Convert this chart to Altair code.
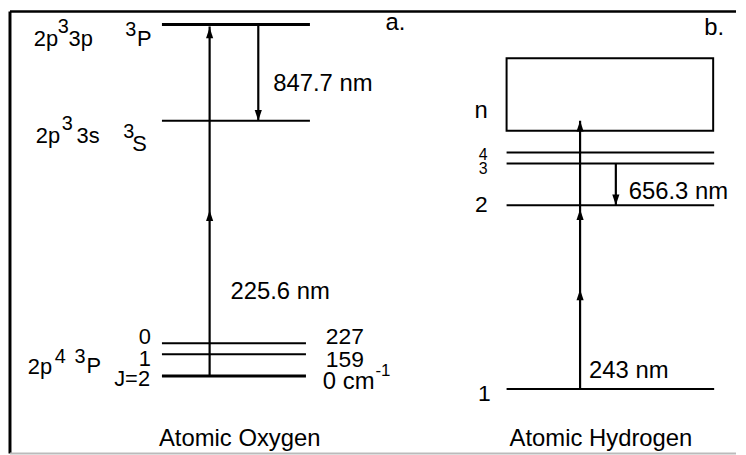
import altair as alt
import pandas as pd

# ---------------- data (diagram units = layout units of the figure) -------------
# Atomic oxygen levels
ox_levels = ["2p3 3p 3P", "2p3 3s 3S", "J=0", "J=1", "J=2"]
ox_level_y = [21, 118, 342, 353, 375]
ox_level_x0 = [163, 163, 163, 163, 163]
ox_level_x1 = [312, 312, 308, 308, 308]
ox_level_w = [3, 2, 2, 2, 3]

# Atomic hydrogen levels
h_levels = ["4", "3", "2", "1"]
h_level_y = [150, 161, 203, 388]
h_level_x0 = [510, 510, 510, 510]
h_level_x1 = [719, 719, 719, 719]
h_level_w = [2, 2, 2, 2]

# continuum box (n)
box_x = [510]
box_x2 = [718]
box_y = [55]
box_y2 = [128]

# transitions (wavelength labels, x, from, to)
tr_names = ["225.6 nm", "847.7 nm", "243 nm", "656.3 nm"]
tr_x = [211, 260, 584, 620]
tr_y0 = [375, 22, 388, 161]
tr_y1 = [23, 118, 118, 203]

# arrowheads (tip positions) and direction
head_x = [211, 211, 260, 584, 584, 584, 620]
head_y = [208, 24, 118, 118, 207, 288, 203]
head_dir = ["up", "up", "down", "up", "up", "up", "down"]

# text labels: text, left x, baseline y, size
lab_text = ["2p", "3", "3p", "3", "P",
            "2p", "3", "3s", "3", "S",
            "2p", "4", "3", "P",
            "227", "159", "0 cm", "-1",
            "225.6 nm", "847.7 nm", "Atomic Oxygen", "a.",
            "656.3 nm", "243 nm", "Atomic Hydrogen", "b."]
lab_x = [34, 58, 69, 126, 138,
         36, 62, 77, 124, 133,
         28, 55, 75, 87,
         328, 328, 325, 378,
         232, 275, 160, 388,
         633, 593, 513, 709]
lab_y = [43, 30, 43, 33, 43,
         140, 127, 140, 135, 148,
         373, 362, 362, 372,
         343, 366, 388, 375,
         297, 88, 445, 27,
         197, 377, 445, 32]
lab_size = [22, 20, 22, 20, 22,
            22, 20, 22, 20, 22,
            22, 20, 20, 22,
            23, 23, 24, 17,
            24, 24, 24, 24,
            24, 24, 24, 24]

# right aligned labels
rlab_text = ["0", "1", "J=2", "n", "4", "3", "2", "1"]
rlab_x = [152, 152, 151, 491, 491, 491, 491, 494]
rlab_y = [343, 365, 385, 115, 157, 172, 210, 400]
rlab_size = [22, 22, 22, 24, 16, 16, 23, 23]

# frame
frame_x0 = [10, 10, 10]
frame_x1 = [741, 10, 741]
frame_y0 = [8, 8, 453]
frame_y1 = [8, 453, 453]
frame_col = ["#000000", "#000000", "#bbbbbb"]
frame_w = [2.5, 3, 2]

# ---------------- chart ---------------------------------------------------------
W, H = 730, 447
xs = alt.Scale(domain=[8, 8 + W], nice=False, zero=False)
ys = alt.Scale(domain=[8, 8 + H], nice=False, zero=False, reverse=True)
X = lambda f: alt.X(f, type="quantitative", scale=xs, axis=None)
Y = lambda f: alt.Y(f, type="quantitative", scale=ys, axis=None)

levels = pd.DataFrame({
    "name": ox_levels + h_levels,
    "y": ox_level_y + h_level_y,
    "x0": ox_level_x0 + h_level_x0,
    "x1": ox_level_x1 + h_level_x1,
    "w": ox_level_w + h_level_w,
})
box = pd.DataFrame({"x": box_x, "x2": box_x2, "y": box_y, "y2": box_y2})
trans = pd.DataFrame({"name": tr_names, "x": tr_x, "y0": tr_y0, "y1": tr_y1})
heads = pd.DataFrame({"x": head_x, "y": head_y, "dir": head_dir})
labels = pd.DataFrame({"t": lab_text, "x": lab_x, "y": lab_y, "s": lab_size})
rlabels = pd.DataFrame({"t": rlab_text, "x": rlab_x, "y": rlab_y, "s": rlab_size})
frame = pd.DataFrame({"x0": frame_x0, "x1": frame_x1, "y0": frame_y0,
                      "y1": frame_y1, "c": frame_col, "w": frame_w})

frame_l = alt.Chart(frame).mark_rule().encode(
    x=X("x0"), x2="x1", y=Y("y0"), y2="y1",
    color=alt.Color("c:N", scale=None),
    strokeWidth=alt.StrokeWidth("w:Q", scale=None),
)

level_l = alt.Chart(levels).mark_rule(color="black").encode(
    x=X("x0"), x2="x1", y=Y("y"),
    strokeWidth=alt.StrokeWidth("w:Q", scale=None),
)

box_l = alt.Chart(box).mark_rect(fill=None, stroke="black", strokeWidth=2).encode(
    x=X("x"), x2="x2", y=Y("y"), y2="y2"
)

trans_l = alt.Chart(trans).mark_rule(color="black", strokeWidth=2.2).encode(
    x=X("x"), y=Y("y0"), y2="y1"
)

# custom symbol paths are scaled by sqrt(size)/2 (=6 for size 144)
up_path = "M-0.6,1.8 L0,0 L0.6,1.8 Z"
down_path = "M-0.6,-1.8 L0,0 L0.6,-1.8 Z"
head_up = alt.Chart(heads).transform_filter(alt.datum.dir == "up").mark_point(
    shape=up_path, filled=True, color="black", size=144, opacity=1, strokeWidth=0
).encode(x=X("x"), y=Y("y"))
head_down = alt.Chart(heads).transform_filter(alt.datum.dir == "down").mark_point(
    shape=down_path, filled=True, color="black", size=144, opacity=1, strokeWidth=0
).encode(x=X("x"), y=Y("y"))

text_l = alt.Chart(labels).mark_text(
    align="left", baseline="alphabetic", font="Liberation Sans", color="black"
).encode(x=X("x"), y=Y("y"), text="t:N", size=alt.Size("s:Q", scale=None))

rtext_l = alt.Chart(rlabels).mark_text(
    align="right", baseline="alphabetic", font="Liberation Sans", color="black"
).encode(x=X("x"), y=Y("y"), text="t:N", size=alt.Size("s:Q", scale=None))

chart = alt.layer(
    frame_l, level_l, box_l, trans_l, head_up, head_down, text_l, rtext_l
).properties(width=W, height=H, padding=0, background="white").configure_view(
    stroke=None
)

chart.save("out.html", embed_options={"renderer": "svg", "actions": False})
